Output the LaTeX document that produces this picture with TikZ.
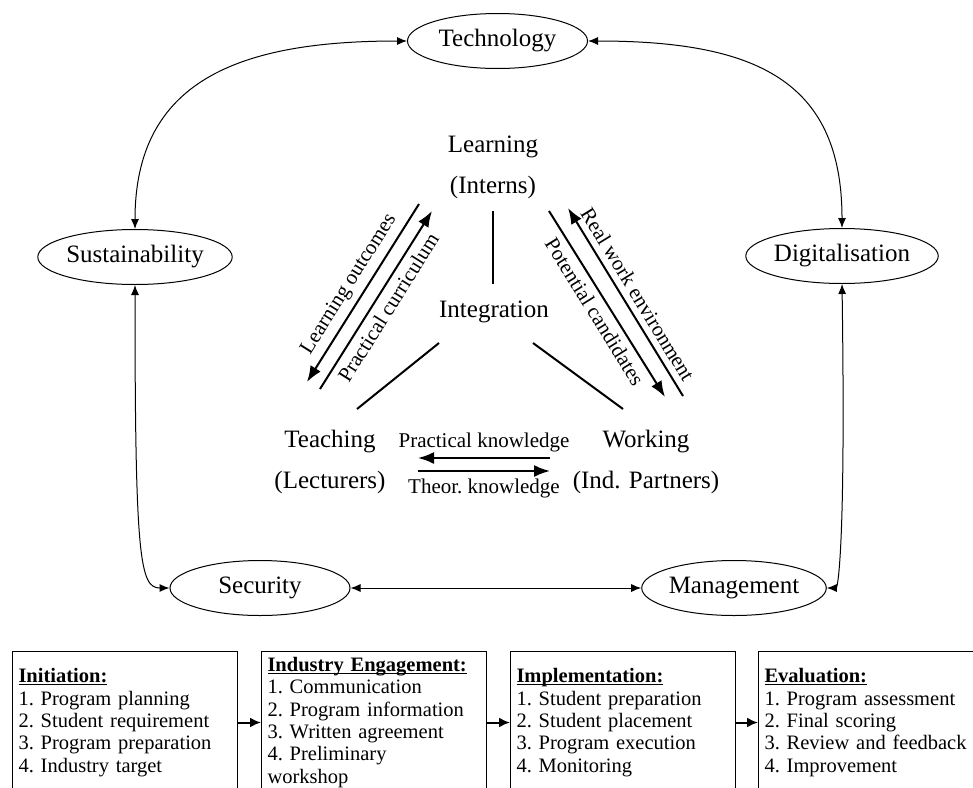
\documentclass[tikz,border=0pt]{standalone}
\usepackage{fontspec}
\setmainfont{Liberation Serif}
\usetikzlibrary{shapes.geometric,arrows.meta}
\newcommand\fbig{\fontsize{25}{41}\selectfont}
\newcommand\fsmall{\fontsize{20.5}{22.3}\selectfont\frenchspacing}
\newcommand\flab{\fontsize{21}{25}\selectfont\frenchspacing}
\newsavebox\stitlebox
\newcommand\stitle[1]{\sbox\stitlebox{\textbf{#1}}\rlap{\rule[-2.6pt]{\wd\stitlebox}{1pt}}\usebox\stitlebox}
\begin{document}
\begin{tikzpicture}[x=1pt,y=-1pt,
  elli/.style={draw, ellipse, line width=1pt, minimum width=180pt, minimum height=55pt, inner sep=0pt, font=\fbig},
  curvearrow/.style={line width=1pt, {Latex[length=10pt,width=8pt]}-{Latex[length=10pt,width=8pt]}},
  heavy/.style={line width=2pt, -{Latex[length=16pt,width=12pt]}},
  plainline/.style={line width=2pt},
  boxarrow/.style={line width=2pt, -{Latex[length=11pt,width=10pt]}},
  stage/.style={draw, line width=1pt, anchor=north west, minimum width=225pt, minimum height=142pt, text width=213pt, inner xsep=6pt, inner ysep=0pt, align=left, font=\fsmall},
  lab/.style={font=\fbig, align=center},
  slab/.style={font=\flab, inner sep=3pt},
]
\useasboundingbox (0,0) rectangle (973,787);
\clip (0,0) rectangle (973,787);

% outer ellipses
\node[elli] (tech) at (497.5,41) {Technology};
\node[elli] (sust) at (135,257) {Sustainability};
\node[elli] (digi) at (842,256) {Digitalisation};
\node[elli] (secu) at (260,588) {Security};
\node[elli] (mana) at (734,588) {Management};

\draw[curvearrow] (sust.north) .. controls (135,80) and (240,41) .. (tech.west);
\draw[curvearrow] (digi.north) .. controls (842,80) and (755,41) .. (tech.east);
\draw[curvearrow] (sust.south) .. controls (135,560) and (140,588) .. (secu.west);
\draw[curvearrow] (digi.south) .. controls (846,560) and (837,588) .. (mana.east);
\draw[curvearrow] (secu.east) -- (mana.west);

% centre
\node[lab] (learn) at (493,167) {Learning\\(Interns)};
\node[lab] (integ) at (494,312) {Integration};
\node[lab] (teach) at (330,462) {Teaching\\(Lecturers)};
\node[lab] (work) at (646,462) {Working\\(Ind. Partners)};

\coordinate (v1) at (493,211); \coordinate (v2) at (493,284);
\coordinate (l1) at (439,343); \coordinate (l2) at (357,409);
\coordinate (r1) at (533,343); \coordinate (r2) at (623,409);
\draw[plainline] (v1) -- (v2);
\draw[plainline] (l1) -- (l2);
\draw[plainline] (r1) -- (r2);

\coordinate (lo1) at (419,204); \coordinate (lo2) at (307,382);
\coordinate (pc1) at (320,389); \coordinate (pc2) at (432,211);
\coordinate (pa1) at (549,211); \coordinate (pa2) at (665,397);
\coordinate (rw1) at (683,396); \coordinate (rw2) at (568,208);
\draw[heavy] (lo1) -- (lo2) node[slab, midway, sloped, above=3pt] {Learning outcomes};
\draw[heavy] (pc1) -- (pc2) node[slab, midway, sloped, below=3pt] {Practical curriculum};
\draw[heavy] (pa1) -- (pa2) node[slab, midway, sloped, below=3pt] {Potential candidates};
\draw[heavy] (rw1) -- (rw2) node[slab, midway, sloped, above=3pt] {Real work environment};

\coordinate (pk1) at (550,458); \coordinate (pk2) at (418,458);
\coordinate (tk1) at (418,471); \coordinate (tk2) at (550,471);
\draw[heavy] (pk1) -- (pk2) node[slab, midway, above=2pt] {Practical knowledge};
\draw[heavy] (tk1) -- (tk2) node[slab, midway, below=4pt] {Theor. knowledge};

% stages
\node[stage] (s1) at (12,651) {\stitle{Initiation:}\\1. Program planning\\2. Student requirement\\3. Program preparation\\4. Industry target};
\node[stage] (s2) at (261,651) {\stitle{Industry Engagement:}\\1. Communication\\2. Program information\\3. Written agreement\\4. Preliminary\\workshop};
\node[stage] (s3) at (510,651) {\stitle{Implementation:}\\1. Student preparation\\2. Student placement\\3. Program execution\\4. Monitoring};
\node[stage] (s4) at (758,651) {\stitle{Evaluation:}\\1. Program assessment\\2. Final scoring\\3. Review and feedback\\4. Improvement};
\draw[boxarrow] (s1.east) -- (s2.west);
\draw[boxarrow] (s2.east) -- (s3.west);
\draw[boxarrow] (s3.east) -- (s4.west);
\end{tikzpicture}
\end{document}
